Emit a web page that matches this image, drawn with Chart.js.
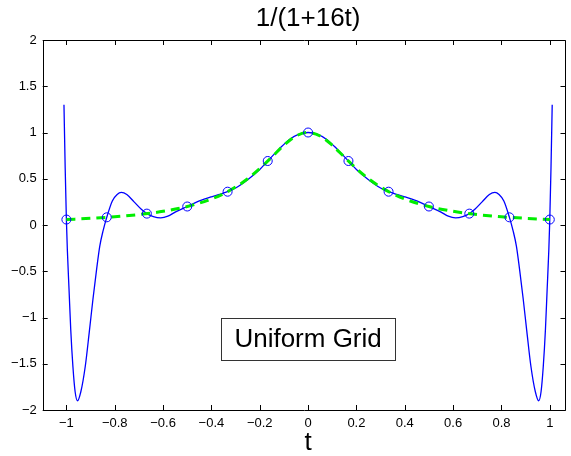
<!DOCTYPE html>
<html>
<head>
<meta charset="utf-8">
<script src="https://cdn.jsdelivr.net/npm/chart.js@4/dist/chart.umd.min.js"></script>
<style>
  html, body { margin: 0; padding: 0; background: #fff; }
  #wrap { width: 571px; height: 456px; position: relative; }
</style>
</head>
<body>
<div id="wrap"><canvas id="runge"></canvas></div>
<script>
'use strict';

// ── Data ──────────────────────────────────────────────────────
const titleText = '1/(1+16t)';
const xLabel = 't';
const boxText = 'Uniform Grid';

// interpolating polynomial (blue solid)
const polyT = [
  -1.010, -1.005, -1.000, -0.996, -0.989, -0.982, -0.973, -0.964, -0.954, -0.940,
  -0.922, -0.905, -0.890, -0.875, -0.862, -0.848, -0.833, -0.810, -0.790, -0.773,
  -0.750, -0.720, -0.690, -0.667, -0.640, -0.610, -0.580, -0.550, -0.500, -0.450,
  -0.400, -0.367, -0.333, -0.300, -0.250, -0.200, -0.167, -0.120, -0.080, -0.040,
  0.000,
  0.040, 0.080, 0.120, 0.167, 0.200, 0.250, 0.300, 0.333, 0.367, 0.400,
  0.450, 0.500, 0.550, 0.580, 0.610, 0.640, 0.667, 0.690, 0.720, 0.750,
  0.773, 0.790, 0.810, 0.833, 0.848, 0.862, 0.875, 0.890, 0.905, 0.922,
  0.940, 0.954, 0.964, 0.973, 0.982, 0.989, 0.996, 1.000, 1.005, 1.010
];
const polyV = [
  1.30, 0.62, 0.059, -0.27, -0.70, -1.13, -1.53, -1.80, -1.90, -1.80,
  -1.53, -1.15, -0.80, -0.48, -0.23, -0.06, 0.083, 0.26, 0.33, 0.352,
  0.33, 0.25, 0.17, 0.123, 0.09, 0.077, 0.095, 0.14, 0.20, 0.26,
  0.305, 0.33, 0.36, 0.40, 0.49, 0.60, 0.692, 0.82, 0.92, 0.98,
  1.00,
  0.98, 0.92, 0.82, 0.692, 0.60, 0.49, 0.40, 0.36, 0.33, 0.305,
  0.26, 0.20, 0.14, 0.095, 0.077, 0.09, 0.123, 0.17, 0.25, 0.33,
  0.352, 0.33, 0.26, 0.083, -0.06, -0.23, -0.48, -0.80, -1.15, -1.53,
  -1.80, -1.90, -1.80, -1.53, -1.13, -0.70, -0.27, 0.059, 0.62, 1.30
];

// the function itself (green dashed)
const funcT = [
  -1.00, -0.90, -0.80, -0.70, -0.60, -0.50, -0.40, -0.35, -0.30, -0.25,
  -0.20, -0.15, -0.10, -0.05, 0.00, 0.05, 0.10, 0.15, 0.20, 0.25,
  0.30, 0.35, 0.40, 0.50, 0.60, 0.70, 0.80, 0.90, 1.00
];
const funcV = [
  0.059, 0.072, 0.089, 0.113, 0.148, 0.200, 0.281, 0.338, 0.410, 0.500,
  0.610, 0.735, 0.862, 0.962, 1.000, 0.962, 0.862, 0.735, 0.610, 0.500,
  0.410, 0.338, 0.281, 0.200, 0.148, 0.113, 0.089, 0.072, 0.059
];

// grid nodes (circles)
const nodeT = [-1, -0.833, -0.667, -0.5, -0.333, -0.167, 0, 0.167, 0.333, 0.5, 0.667, 0.833, 1];
const nodeV = [0.059, 0.083, 0.123, 0.2, 0.36, 0.692, 1, 0.692, 0.36, 0.2, 0.123, 0.083, 0.059];

const xTicks = [-1, -0.8, -0.6, -0.4, -0.2, 0, 0.2, 0.4, 0.6, 0.8, 1];
const yTicks = [-2, -1.5, -1, -0.5, 0, 0.5, 1, 1.5, 2];

// ── Styling ──────────────────────────────────────────────────
const FONT = "'Liberation Sans', Arial, sans-serif";
const BLUE = '#0000ff';
const GREEN = '#00ee00';
const INK = '#000000';

const fmt = v => String(v).replace('-', '\u2212');
const pts = (xs, ys) => xs.map((x, i) => ({ x, y: ys[i] }));

// frame, inward tick marks, title, axis label and text box
const matlabFrame = {
  id: 'matlabFrame',
  afterDatasetsDraw(chart) {
    const { ctx, chartArea: a, scales: { x, y } } = chart;
    ctx.save();
    ctx.strokeStyle = INK;
    ctx.lineWidth = 1;
    ctx.beginPath();
    ctx.rect(Math.round(a.left) + 0.5, Math.round(a.top) + 0.5,
             Math.round(a.right - a.left) - 1, Math.round(a.bottom - a.top));
    ctx.stroke();

    const len = 5;
    ctx.beginPath();
    xTicks.forEach(v => {
      const px = Math.round(x.getPixelForValue(v)) + 0.5;
      ctx.moveTo(px, a.bottom); ctx.lineTo(px, a.bottom - len);
      ctx.moveTo(px, a.top); ctx.lineTo(px, a.top + len);
    });
    yTicks.forEach(v => {
      const py = Math.round(y.getPixelForValue(v)) + 0.5;
      ctx.moveTo(a.left, py); ctx.lineTo(a.left + len, py);
      ctx.moveTo(a.right, py); ctx.lineTo(a.right - len, py);
    });
    ctx.stroke();

    // title
    ctx.fillStyle = INK;
    ctx.textAlign = 'center';
    ctx.textBaseline = 'middle';
    ctx.font = `26px ${FONT}`;
    ctx.fillText(titleText, x.getPixelForValue(0), 19);

    // x label
    ctx.font = `26px ${FONT}`;
    ctx.fillText(xLabel, x.getPixelForValue(0), 443);

    // text box
    const cx = x.getPixelForValue(0);
    const cy = y.getPixelForValue(-1.23);
    ctx.font = `26px ${FONT}`;
    const w = 174, h = 42;
    ctx.fillStyle = '#fff';
    ctx.fillRect(cx - w / 2, cy - h / 2, w, h);
    ctx.strokeStyle = '#333';
    ctx.strokeRect(Math.round(cx - w / 2) + 0.5, Math.round(cy - h / 2) + 0.5, w, h);
    ctx.fillStyle = INK;
    ctx.fillText(boxText, cx, cy + 1);
    ctx.restore();
  }
};

new Chart(document.getElementById('runge'), {
  type: 'line',
  data: {
    datasets: [
      {
        label: 'nodes',
        data: pts(nodeT, nodeV),
        showLine: false,
        borderColor: BLUE,
        backgroundColor: 'transparent',
        pointStyle: 'circle',
        pointRadius: 4.5,
        pointBorderWidth: 1,
        order: 0,
      },
      {
        label: 'f',
        data: pts(funcT, funcV),
        borderColor: GREEN,
        borderWidth: 3,
        borderDash: [9, 6],
        pointRadius: 0,
        cubicInterpolationMode: 'monotone',
        fill: false,
        order: 1,
      },
      {
        label: 'p',
        data: pts(polyT, polyV),
        borderColor: BLUE,
        borderWidth: 1.3,
        pointRadius: 0,
        cubicInterpolationMode: 'monotone',
        fill: false,
        order: 2,
      },
    ],
  },
  options: {
    responsive: true,
    maintainAspectRatio: false,
    animation: false,
    events: [],
    layout: { padding: { top: 40, right: 1.7, left: 0, bottom: 0 } },
    plugins: { legend: { display: false }, tooltip: { enabled: false }, title: { display: false } },
    scales: {
      x: {
        type: 'linear',
        min: -1.098,
        max: 1.065,
        afterBuildTicks: s => { s.ticks = xTicks.map(value => ({ value })); },
        afterFit: s => { s.height = 46; },
        grid: { display: false, drawTicks: false },
        border: { display: false },
        ticks: { color: INK, font: { family: FONT, size: 13 }, padding: 6, maxRotation: 0, callback: fmt },
      },
      y: {
        type: 'linear',
        min: -2,
        max: 2,
        afterBuildTicks: s => { s.ticks = yTicks.map(value => ({ value })); },
        afterFit: s => { s.width = 42.7; },
        grid: { display: false, drawTicks: false },
        border: { display: false },
        ticks: { color: INK, font: { family: FONT, size: 13 }, padding: 6, callback: fmt },
      },
    },
  },
  plugins: [matlabFrame],
});
</script>
</body>
</html>
